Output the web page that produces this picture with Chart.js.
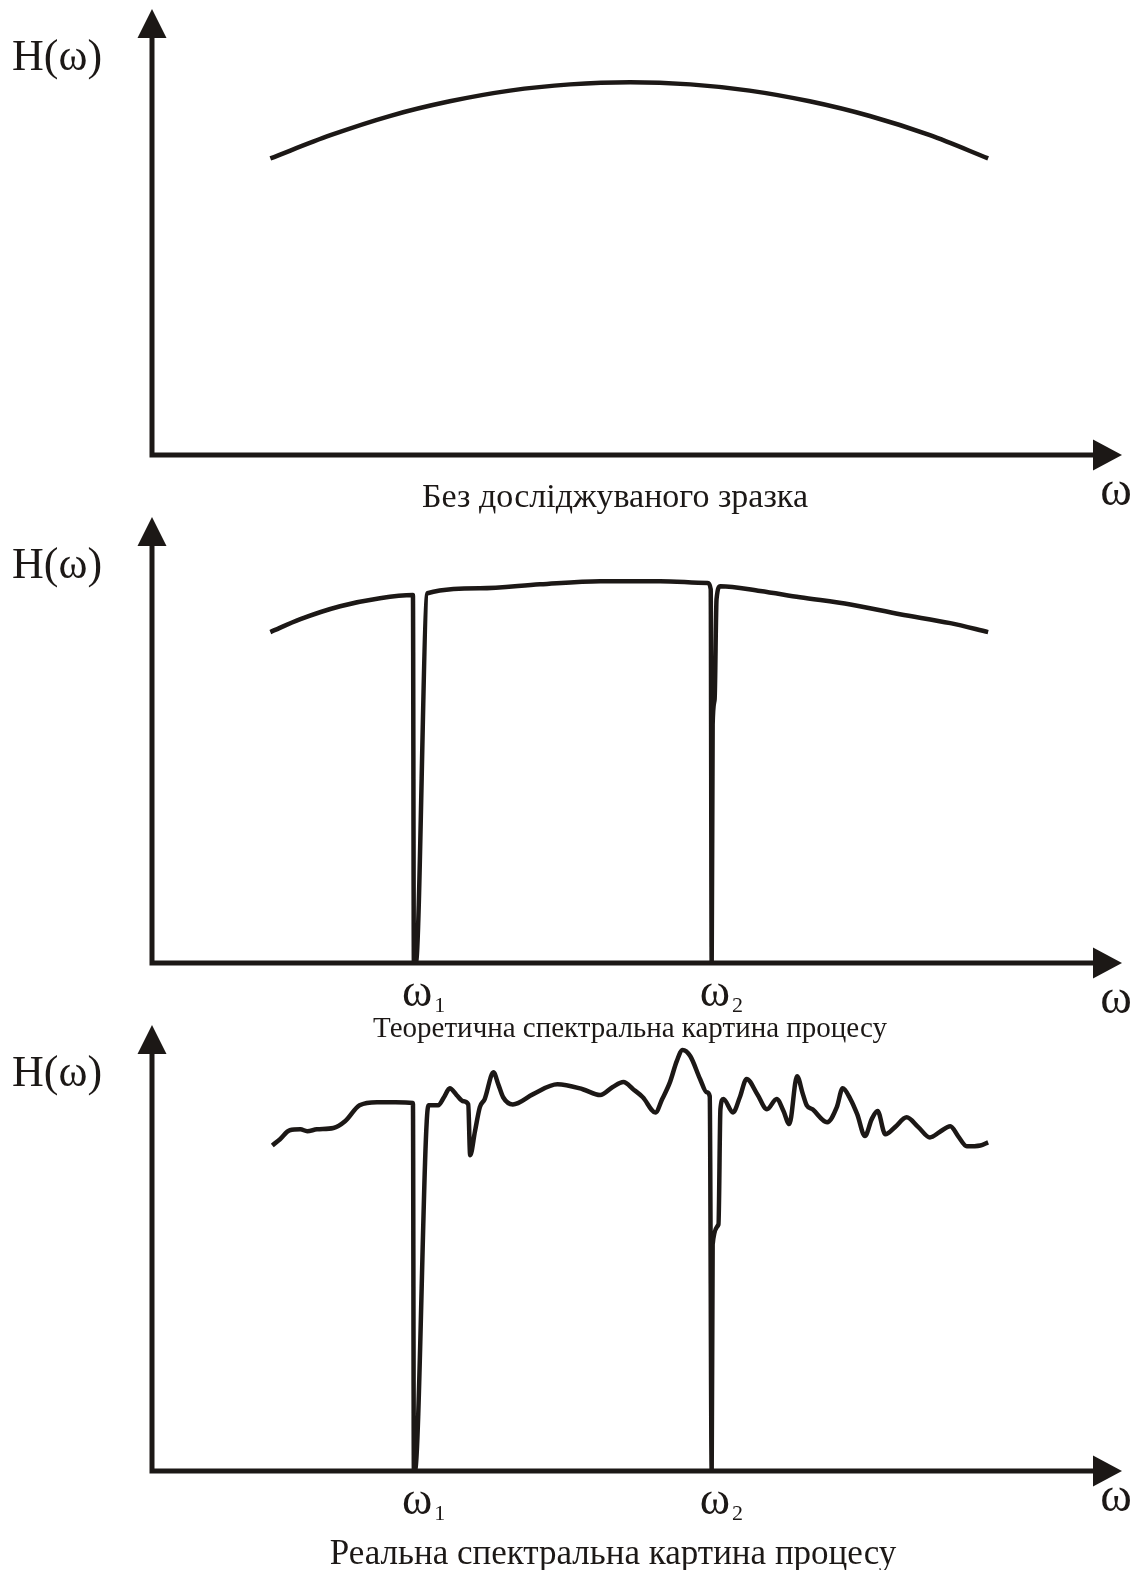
<!DOCTYPE html>
<html>
<head>
<meta charset="utf-8">
<script src="https://cdn.jsdelivr.net/npm/chart.js@4.4.1/dist/chart.umd.min.js"></script>
<style>
  html, body { margin: 0; padding: 0; background: #ffffff; }
  #wrap { position: relative; width: 1142px; height: 1570px; overflow: hidden; }
  #wrap canvas { position: absolute; left: 0; }
</style>
</head>
<body>
<div id="wrap">
  <canvas id="bare" width="1142" height="560" style="top:0"></canvas>
  <canvas id="theory" width="1142" height="560" style="top:508px"></canvas>
  <canvas id="real" width="1142" height="554" style="top:1016px"></canvas>
</div>
<script>
// Spectral response H(ω), relative units: ω and H both on a 0..100 scale.

// Without the sample: smooth instrument response
const bareOmega = [12.2, 18.4, 24.5, 30.7, 36.9, 43.1, 49.3, 55.5, 61.6, 67.8, 74.0, 80.2, 86.2];
const bareH     = [66.5, 71.7, 76.0, 79.3, 81.7, 83.1, 83.6, 83.1, 81.7, 79.3, 76.0, 71.7, 66.5];

// Theoretical spectrum: two narrow absorption lines at ω1 and ω2
const theoryOmega = [12.2, 15.3, 19.4, 23.5, 26.9, 27.0, 27.2, 28.4, 33.8, 40.0, 46.2, 52.4, 57.3, 57.6,
                     57.7, 57.8, 58.0, 58.2, 58.6, 62.7, 66.8, 72.0, 77.1, 82.3, 86.2];
const theoryH     = [74.2, 77.1, 80.0, 81.8, 82.5, 0, 0, 82.9, 84.0, 84.9, 85.6, 85.6, 85.2, 83.8,
                     0, 53.5, 59.1, 81.6, 84.5, 83.4, 82.0, 80.4, 78.2, 76.2, 74.2];

// Measured spectrum: the same two lines on a noisy background
const realOmega = [12.4, 13.2, 14.2, 15.3, 16.0, 17.0, 18.7, 19.9, 21.4, 23.2, 25.1, 26.9, 27.0, 27.1,
                   28.5, 29.5, 30.1, 30.7, 31.4, 32.1, 32.6, 32.8, 33.3, 33.8, 34.3, 35.2, 35.7, 36.2,
                   37.2, 39.3, 41.8, 44.4, 46.2, 47.5, 48.6, 49.6, 50.6, 51.9, 52.6, 53.4, 54.1, 54.7,
                   55.5, 56.5, 57.2, 57.5, 57.7, 57.8, 58.4, 58.6, 58.9, 59.9, 60.6, 61.3, 62.4, 63.4,
                   64.4, 65.1, 65.7, 66.5, 67.1, 67.5, 68.1, 69.6, 70.6, 71.2, 72.0, 72.7, 73.5, 74.2,
                   74.8, 75.6, 76.6, 77.8, 79.0, 80.2, 81.2, 82.3, 83.1, 84.0, 85.4, 86.2];
const realH     = [73.0, 74.4, 76.4, 76.6, 76.2, 76.6, 76.9, 78.4, 82.0, 82.7, 82.7, 82.5, 0, 0,
                   82.0, 82.0, 83.8, 85.8, 84.3, 82.9, 82.2, 70.8, 76.2, 81.6, 83.4, 89.4, 86.7, 83.8,
                   82.2, 84.5, 86.7, 85.6, 84.3, 86.1, 87.2, 85.6, 83.8, 80.4, 83.4, 87.2, 91.9, 94.4,
                   93.0, 87.9, 84.9, 84.0, 0, 50.8, 55.3, 81.1, 83.4, 80.4, 83.8, 87.9, 84.5, 81.1,
                   83.4, 80.7, 77.8, 88.5, 84.5, 82.0, 81.1, 78.2, 81.6, 85.8, 83.4, 80.0, 75.1, 78.9,
                   80.7, 75.5, 77.1, 79.3, 77.1, 74.8, 76.0, 77.3, 75.1, 72.8, 73.0, 73.7];

// Line positions and captions
const resonances = [27.0, 57.7];
const resonanceNames = ['1', '2'];
const axisNameY = 'H(ω)';
const axisNameX = 'ω';
const captions = [
  'Без досліджуваного зразка',
  'Теоретична спектральна картина процесу',
  'Реальна спектральна картина процесу'
];

const INK = '#1c1816';
const SERIF = '"Liberation Serif", "Times New Roman", serif';

// Axes with arrowheads, axis names, resonance marks and the caption
const frame = {
  id: 'frame',
  afterDraw(chart, args, o) {
    const { ctx, scales: { x, y } } = chart;
    const x0 = x.getPixelForValue(0), y0 = y.getPixelForValue(0);
    const xTip = x.getPixelForValue(100), yTip = y.getPixelForValue(100);
    ctx.save();
    ctx.strokeStyle = INK;
    ctx.fillStyle = INK;
    ctx.lineWidth = 5;
    ctx.lineJoin = 'miter';
    ctx.beginPath();
    ctx.moveTo(x0, yTip + 26);
    ctx.lineTo(x0, y0);
    ctx.lineTo(xTip - 26, y0);
    ctx.stroke();
    ctx.beginPath();
    ctx.moveTo(x0, yTip);
    ctx.lineTo(x0 - 14.5, yTip + 29);
    ctx.lineTo(x0 + 14.5, yTip + 29);
    ctx.closePath();
    ctx.fill();
    ctx.beginPath();
    ctx.moveTo(xTip, y0);
    ctx.lineTo(xTip - 29, y0 - 15.5);
    ctx.lineTo(xTip - 29, y0 + 15.5);
    ctx.closePath();
    ctx.fill();

    ctx.textBaseline = 'alphabetic';
    ctx.font = '44px ' + SERIF;
    ctx.textAlign = 'left';
    ctx.fillText(axisNameY, 12, yTip + 61);

    ctx.font = '48px ' + SERIF;
    ctx.textAlign = 'center';
    ctx.fillText(axisNameX, 1116, y0 + o.omegaDy);

    if (o.marks) {
      resonances.forEach((w, i) => {
        const px = x.getPixelForValue(w);
        ctx.textAlign = 'left';
        ctx.font = '46px ' + SERIF;
        ctx.fillText(axisNameX, px - 12, y0 + 43);
        const ww = ctx.measureText(axisNameX).width;
        ctx.font = '22px ' + SERIF;
        ctx.fillText(resonanceNames[i], px - 12 + ww + 2, y0 + 49);
      });
    }

    ctx.font = o.capSize + 'px ' + SERIF;
    ctx.textAlign = 'center';
    ctx.fillText(o.caption, o.capX, y0 + o.capDy);
    ctx.restore();
  }
};

function spectrum(id, omega, h, bottom, frameOpts) {
  return new Chart(document.getElementById(id), {
    type: 'line',
    data: {
      datasets: [{
        data: omega.map((w, i) => ({ x: w, y: h[i] })),
        borderColor: INK,
        borderWidth: 4.5,
        borderJoinStyle: 'round',
        borderCapStyle: 'butt',
        pointRadius: 0,
        cubicInterpolationMode: 'monotone',
        fill: false
      }]
    },
    options: {
      responsive: false,
      animation: false,
      devicePixelRatio: 1,
      layout: { padding: { left: 152, right: 20, top: 9, bottom: bottom } },
      scales: {
        x: { type: 'linear', min: 0, max: 100, display: false },
        y: { type: 'linear', min: 0, max: 100, display: false }
      },
      plugins: {
        legend: { display: false },
        tooltip: { enabled: false },
        frame: frameOpts
      }
    },
    plugins: [frame]
  });
}

spectrum('bare', bareOmega, bareH, 105,
  { caption: captions[0], capSize: 34, capX: 615, capDy: 52, omegaDy: 50, marks: false });
spectrum('theory', theoryOmega, theoryH, 105,
  { caption: captions[1], capSize: 29, capX: 630, capDy: 74, omegaDy: 50, marks: true });
spectrum('real', realOmega, realH, 99,
  { caption: captions[2], capSize: 35, capX: 613, capDy: 93, omegaDy: 40, marks: true });
</script>
</body>
</html>
